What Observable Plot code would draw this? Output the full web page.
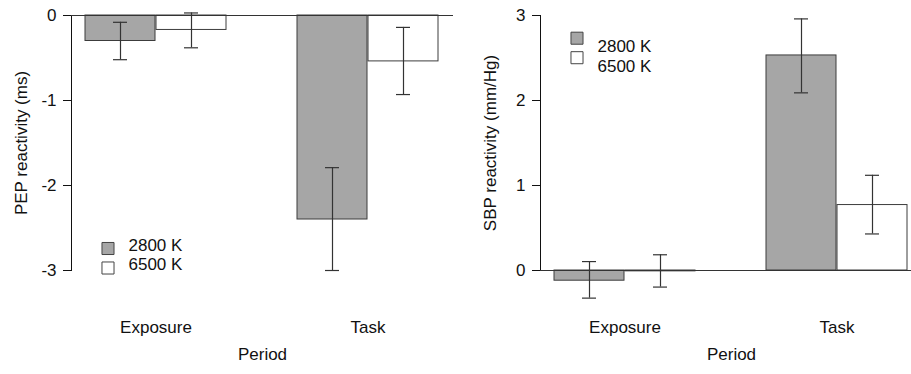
<!DOCTYPE html>
<html>
<head>
<meta charset="utf-8">
<script src="https://cdn.jsdelivr.net/npm/d3@7"></script>
<script src="https://cdn.jsdelivr.net/npm/@observablehq/plot@0.6"></script>
<style>
  html, body { margin: 0; padding: 0; background: white; overflow: hidden; }
  #wrap { position: relative; width: 911px; height: 374px; overflow: hidden; background: white; }
  .panel { position: absolute; top: 0; width: 460px; height: 374px; }
</style>
</head>
<body>
<div id="wrap">
  <div id="left" class="panel" style="left:0px"></div>
  <div id="right" class="panel" style="left:469px"></div>
</div>
<script>
// Data (order: Exposure 2800 K, Exposure 6500 K, Task 2800 K, Task 6500 K)
const periods = ["Exposure", "Task"];
const temps = ["2800 K", "6500 K"];
const tempFill = ["#a6a6a6", "#ffffff"];

const pepMean = [-0.30, -0.17, -2.40, -0.54];
const pepLow  = [-0.52, -0.38, -3.00, -0.93];
const pepHigh = [-0.08,  0.03, -1.79, -0.14];
const pepTicks = [0, -1, -2, -3];

const sbpMean = [-0.12, -0.01, 2.53, 0.77];
const sbpLow  = [-0.325, -0.195, 2.09, 0.43];
const sbpHigh = [0.105, 0.185, 2.96, 1.12];
const sbpTicks = [0, 1, 2, 3];

function rows(mean, lo, hi) {
  return periods.flatMap((p, i) => temps.map((t, j) => ({
    period: p, temp: t, mean: mean[i * 2 + j], lo: lo[i * 2 + j], hi: hi[i * 2 + j]
  })));
}

const FONT = "'Liberation Sans', Arial, Helvetica, sans-serif";
const BAR = 71;      // width of one bar (half of the group band)
const CAP = 15;      // error bar cap width

function panel({data, yDomain, yTicks, yLabel, legendAnchor, legendDy}) {
  const bars = temps.map((t, j) => {
    const sub = data.filter(d => d.temp === t);
    const barInset = j === 0 ? {insetRight: BAR} : {insetLeft: BAR};
    return Plot.barY(sub, {x: "period", y: "mean", fill: tempFill[j], stroke: "#3c3c3c", strokeWidth: 1, ...barInset});
  });
  const errs = temps.flatMap((t, j) => {
    const sub = data.filter(d => d.temp === t);
    const near = BAR / 2 - CAP / 2, far = 2 * BAR - BAR / 2 - CAP / 2;
    const capInset = j === 0 ? {insetLeft: near, insetRight: far} : {insetLeft: far, insetRight: near};
    const dx = j === 0 ? -BAR / 2 : BAR / 2;
    return [
      Plot.ruleX(sub, {x: "period", y1: "lo", y2: "hi", dx, stroke: "#333", strokeWidth: 1.2}),
      Plot.tickY(sub, {x: "period", y: "lo", stroke: "#333", strokeWidth: 1.2, ...capInset}),
      Plot.tickY(sub, {x: "period", y: "hi", stroke: "#333", strokeWidth: 1.2, ...capInset})
    ];
  });
  const legendMarks = temps.flatMap((t, i) => [
    Plot.dot([t], {frameAnchor: legendAnchor, dx: 36.5, dy: legendDy + i * 19.5,
      symbol: "square", r: 6.8, fill: tempFill[i], stroke: "#444", strokeWidth: 1}),
    Plot.text([t], {frameAnchor: legendAnchor, dx: 57, dy: legendDy + i * 19.5 + 2,
      text: d => d, textAnchor: "start", fill: "#111"})
  ]);
  return Plot.plot({
    width: 460, height: 374,
    marginLeft: 71, marginRight: 7, marginTop: 15, marginBottom: 104,
    style: {fontFamily: FONT, fontSize: "17px", color: "#111", background: "white", overflow: "visible"},
    x: {domain: periods, paddingInner: 1 / 3, paddingOuter: 0.0634, axis: null},
    y: {domain: yDomain, ticks: yTicks, tickSize: 8, tickPadding: 7, label: null, line: true,
        tickFormat: d => String(d)},
    marks: [
      ...bars,
      Plot.ruleY([0], {stroke: "#333", strokeWidth: 1}),
      ...errs,
      Plot.text(periods, {x: d => d, text: d => d, frameAnchor: "bottom", dy: 62, fill: "#111"}),
      Plot.text(["Period"], {frameAnchor: "bottom", dy: 89, fill: "#111"}),
      Plot.text([yLabel], {frameAnchor: "left", textAnchor: "middle", rotate: -90, dx: -50, fill: "#111"}),
      ...legendMarks
    ]
  });
}

document.getElementById("left").append(panel({
  data: rows(pepMean, pepLow, pepHigh),
  yDomain: [-3, 0], yTicks: pepTicks, yLabel: "PEP reactivity (ms)",
  legendAnchor: "bottom-left", legendDy: -22
}));

document.getElementById("right").append(panel({
  data: rows(sbpMean, sbpLow, sbpHigh),
  yDomain: [0, 3], yTicks: sbpTicks, yLabel: "SBP reactivity (mm/Hg)",
  legendAnchor: "top-left", legendDy: 22.7
}));
</script>
</body>
</html>
